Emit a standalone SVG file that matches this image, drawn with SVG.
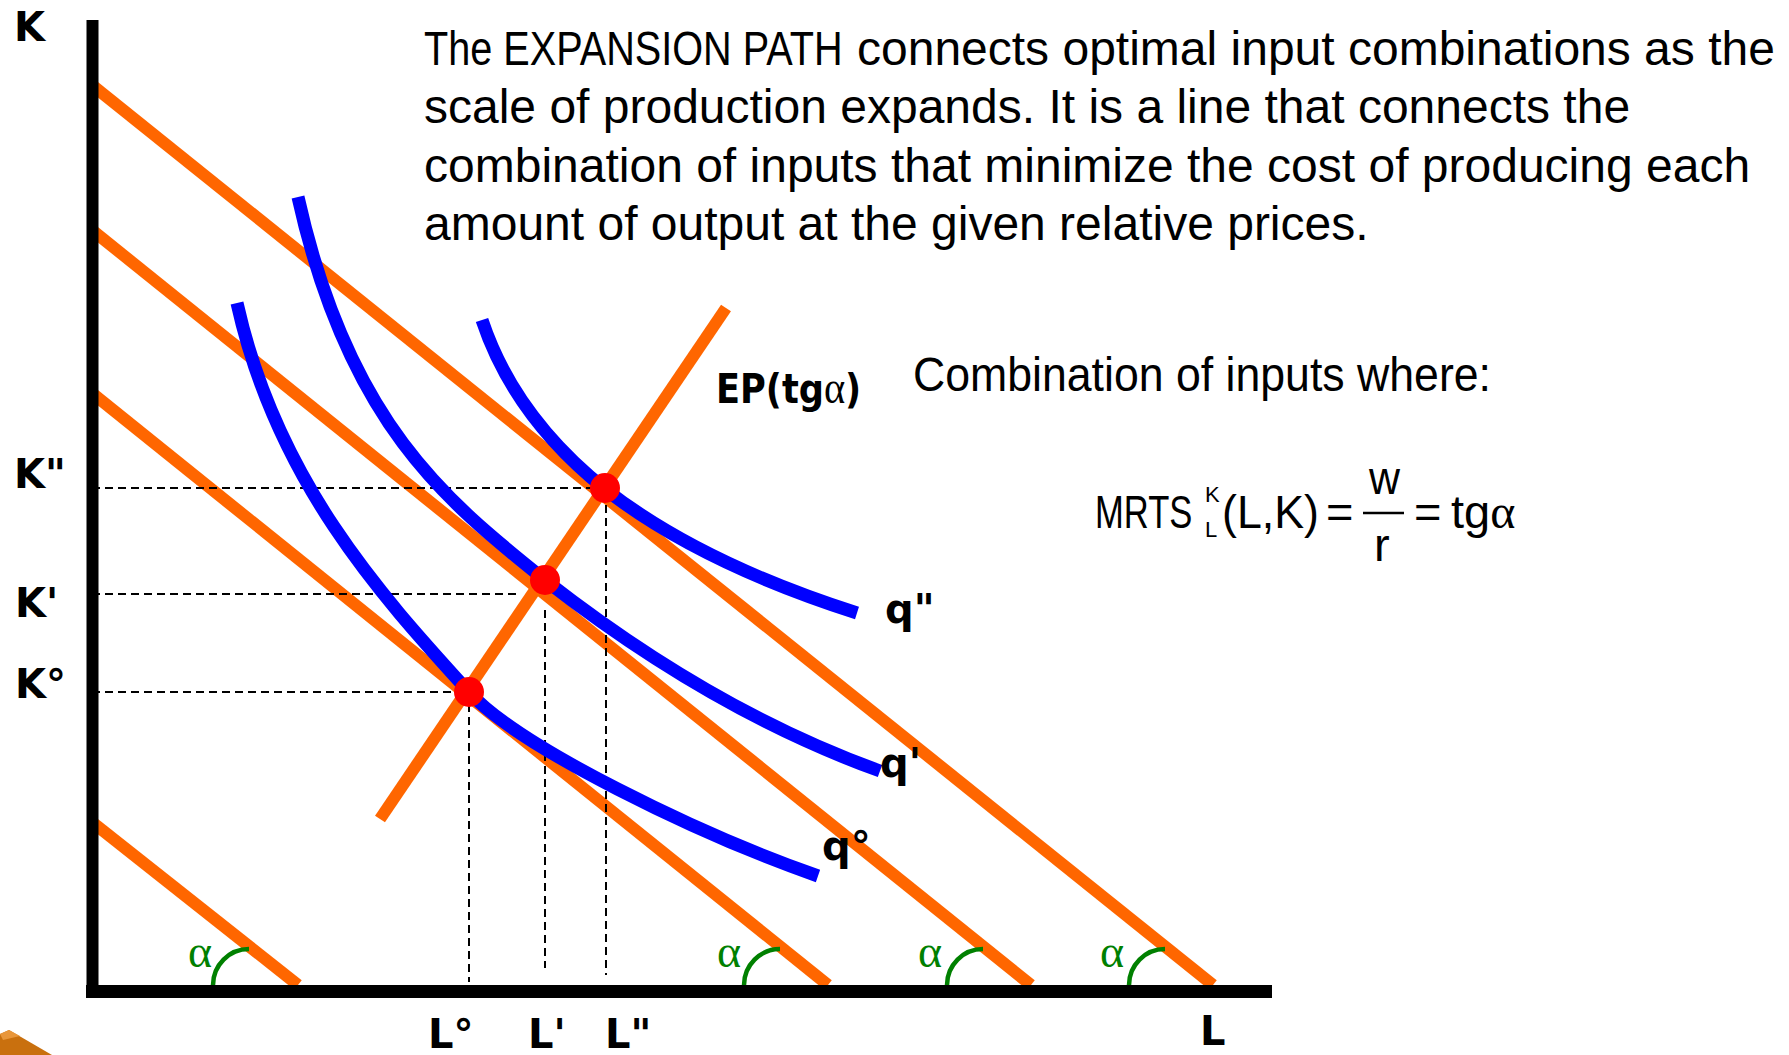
<svg xmlns="http://www.w3.org/2000/svg" width="1789" height="1055" viewBox="0 0 1789 1055">
<defs>
<style>
.or{stroke:#FF6600;stroke-width:12;fill:none;stroke-linecap:butt}
.bl{stroke:#0000FF;stroke-width:13;fill:none;stroke-linecap:butt}
.dash{stroke:#000;stroke-width:2;stroke-dasharray:8 5;fill:none}
.dot{fill:#FF0000}
.arc{stroke:#008000;stroke-width:4.5;fill:none}
.ax{stroke:#000;fill:none}
.lab{font-family:"DejaVu Sans",sans-serif;font-weight:bold;font-size:40px;fill:#000}
.alpha{font-family:"Liberation Serif",serif;font-size:46px;fill:#008000}
.body{font-family:"Liberation Sans",Arial,sans-serif;font-size:48px;fill:#000}
.eq{font-family:"Liberation Sans",Arial,sans-serif;font-size:47px;fill:#000}
.sm{font-family:"Liberation Sans",Arial,sans-serif;font-size:22px;fill:#000}
</style>
</defs>
<rect width="1789" height="1055" fill="#fff"/>
<g id="corner-decoration">
<polygon points="0,1034 9,1030 52,1055 0,1055" fill="#C9700E"/>
<polygon points="0,1034 9,1030 20,1036 3,1040" fill="#E8963A"/>
</g>
<g id="connectors">
<g id="isocost-lines">
<line class="or" x1="92" y1="85" x2="1213" y2="985"/>
<line class="or" x1="92" y1="230" x2="1031" y2="985"/>
<line class="or" x1="92" y1="393" x2="828" y2="985"/>
<line class="or" x1="92" y1="822" x2="298" y2="985"/>
</g>
<line id="expansion-path" class="or" x1="380" y1="819" x2="726" y2="308"/>
<g id="guides">
<line class="dash" x1="92" y1="488" x2="605" y2="488"/>
<line class="dash" x1="92" y1="594" x2="518" y2="594"/>
<line class="dash" x1="92" y1="692" x2="455" y2="692"/>
<line class="dash" x1="606" y1="505" x2="606" y2="975"/>
<line class="dash" x1="545" y1="610" x2="545" y2="968"/>
<line class="dash" x1="469" y1="704" x2="469" y2="982"/>
</g>
<g id="angle-arcs">
<path class="arc" d="M213,985 A36,36 0 0 1 249,949"/>
<path class="arc" d="M744,985 A36,36 0 0 1 780,949"/>
<path class="arc" d="M947,985 A36,36 0 0 1 983,949"/>
<path class="arc" d="M1129,985 A36,36 0 0 1 1165,949"/>
</g>
</g>
<g id="isoquant-q0">
<path class="bl" d="M237,303 C277,483 384,598.5 469,692 C519,747 698,834 818,876"/>
</g>
<g id="isoquant-q1">
<path class="bl" d="M298,197 C348,422 445,500 545,580 Q712.5,710.7 880,771"/>
</g>
<g id="isoquant-q2">
<path class="bl" d="M482,320 C507,395 555,449 605,489 C675,543.6 767,584.2 857,613"/>
</g>
<g id="optimum-points">
<circle class="dot" cx="605" cy="488" r="15"/>
<circle class="dot" cx="545" cy="580" r="15"/>
<circle class="dot" cx="469" cy="692" r="15"/>
</g>
<g id="axes">
<line class="ax" x1="92.5" y1="20" x2="92.5" y2="998" stroke-width="12"/>
<line class="ax" x1="86" y1="991.5" x2="1272" y2="991.5" stroke-width="13"/>
</g>
<g id="axis-labels">
<text class="lab" x="14" y="41">K</text>
<text class="lab" x="14" y="488">K"</text>
<text class="lab" x="15" y="617">K'</text>
<text class="lab" x="15" y="698">K°</text>
<text class="lab" x="428" y="1048">L°</text>
<text class="lab" x="528" y="1048">L'</text>
<text class="lab" x="605" y="1048">L"</text>
<text class="lab" x="1200" y="1045">L</text>
</g>
<g id="curve-labels">
<text class="lab" x="885" y="623">q"</text>
<text class="lab" x="880" y="777">q'</text>
<text class="lab" x="822" y="860">q°</text>
<text class="lab" transform="translate(716,403) scale(0.88,1)" font-size="42">EP(tg<tspan font-family="Liberation Serif, serif" font-weight="normal" font-size="46">α</tspan>)</text>
</g>
<g id="alpha-labels">
<text class="alpha" x="188" y="967">α</text>
<text class="alpha" x="717" y="967">α</text>
<text class="alpha" x="918" y="967">α</text>
<text class="alpha" x="1100" y="967">α</text>
</g>
<g id="description">
<text class="body" transform="translate(424,65) scale(0.826,1)">The EXPANSION PATH</text>
<text class="body" x="857" y="65">connects optimal input combinations as the</text>
<text class="body" x="424" y="123">scale of production expands. It is a line that connects the</text>
<text class="body" x="424" y="182">combination of inputs that minimize the cost of producing each</text>
<text class="body" x="424" y="240">amount of output at the given relative prices.</text>
</g>
<g id="condition">
<text class="body" x="913" y="391" textLength="578" lengthAdjust="spacingAndGlyphs">Combination of inputs where:</text>
<text class="eq" transform="translate(1095,528) scale(0.736,1)">MRTS</text>
<text class="sm" x="1205" y="502">K</text>
<text class="sm" x="1205" y="537">L</text>
<text class="eq" x="1222" y="528" textLength="97" lengthAdjust="spacingAndGlyphs">(L,K)</text>
<text class="eq" x="1326" y="528">=</text>
<text class="eq" x="1369" y="494" textLength="31" lengthAdjust="spacingAndGlyphs">w</text>
<line x1="1363" y1="513" x2="1404" y2="513" stroke="#000" stroke-width="2.5"/>
<text class="eq" x="1374" y="561">r</text>
<text class="eq" x="1414" y="528">=</text>
<text class="eq" x="1451" y="528">tg<tspan font-family="Liberation Serif, serif" font-size="48">α</tspan></text>
</g>
</svg>
